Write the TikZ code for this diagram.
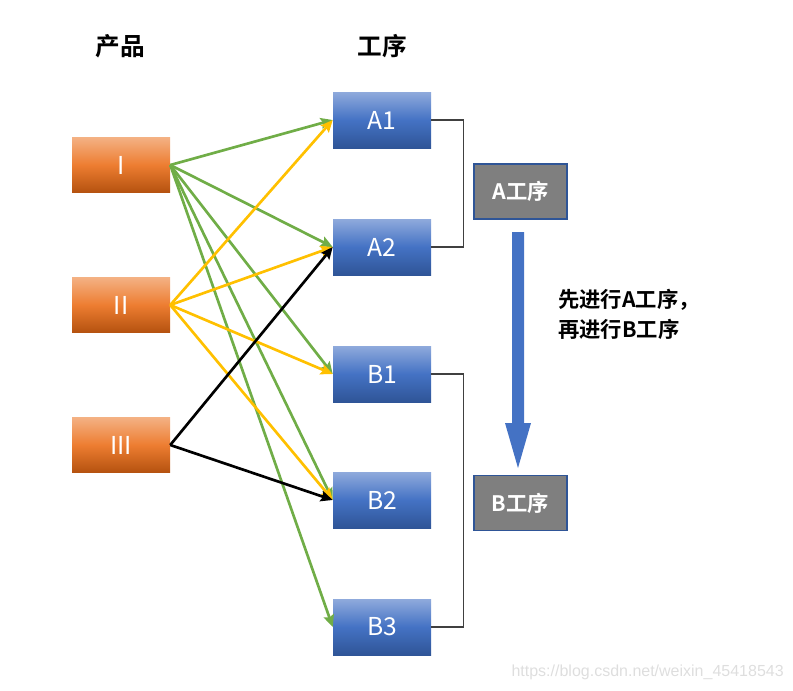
\documentclass[tikz,border=0pt]{standalone}
\usepackage{fontspec}
\setmainfont{Noto Sans CJK SC}[BoldFont={Noto Sans CJK SC Bold}]
\newfontfamily\wmfont{Liberation Sans}
\usetikzlibrary{arrows.meta}
\definecolor{orT}{HTML}{F4B183}
\definecolor{orM}{HTML}{ED7D31}
\definecolor{orB}{HTML}{B5520F}
\definecolor{blT}{HTML}{8FAADC}
\definecolor{blM}{HTML}{4472C4}
\definecolor{blB}{HTML}{2F5597}
\definecolor{grn}{HTML}{70AD47}
\definecolor{ylw}{HTML}{FFC000}
\definecolor{boxgray}{HTML}{7F7F7F}
\tikzset{
  prod/.style={minimum width=73.5pt, minimum height=41.25pt, inner sep=0pt,
    top color=orT, bottom color=orB, middle color=orM, text=white, font=\fontsize{18.5}{20}\selectfont},
  proc/.style={minimum width=73.5pt, minimum height=42pt, inner sep=0pt,
    top color=blT, bottom color=blB, middle color=blM, text=white, font=\fontsize{18.5}{20}\selectfont},
  stage/.style={minimum width=69.75pt, minimum height=41.25pt, inner sep=0pt,
    fill=boxgray, draw=blB, line width=1.2pt, text=white, font=\bfseries\fontsize{16}{18}\selectfont},
  header/.style={font=\bfseries\fontsize{18.5}{20}\selectfont},
  link/.style={line width=2pt, -{Stealth[length=9pt,width=8pt,inset=1.5pt]}},
  brack/.style={line width=0.8pt, draw=black!75},
}
\begin{document}
\begin{tikzpicture}[x=0.75pt,y=-0.75pt]
\useasboundingbox (0,0) rectangle (793,690);
% headers
\node[header] (hp) at (120,46) {产品};
\node[header] (hs) at (382,46) {工序};
% products
\node[prod] (P1) at (121,165) {I};
\node[prod] (P2) at (121,305) {II};
\node[prod] (P3) at (121,445) {III};
% processes
\node[proc] (A1) at (382,120) {A1};
\node[proc] (A2) at (382,247) {A2};
\node[proc] (B1) at (382,374) {B1};
\node[proc] (B2) at (382,500) {B2};
\node[proc] (B3) at (382,627) {B3};
% stage boxes
\node[stage] (SA) at (520.5,191.5) {A工序};
\node[stage] (SB) at (520.5,503) {B工序};
% brackets
\draw[brack] (A1.east) -- ++(32,0) |- (A2.east);
\draw[brack] (B1.east) -- ++(32,0) |- (B3.east);
% big arrow
\fill[blM] (512,232) -- (524,232) -- (524,423) -- (531,423) -- (518,468) -- (505,423) -- (512,423) -- cycle;
% side text
\node[anchor=west, align=left, font=\bfseries\fontsize{16}{22.5}\selectfont, inner sep=0pt] (note) at (558,314) {先进行A工序，\\再进行B工序};
% links
\foreach \t in {A1,A2,B1,B2,B3} \draw[link, grn] (P1.east) -- (\t.west);
\foreach \t in {A1,A2,B1,B2} \draw[link, ylw] (P2.east) -- (\t.west);
\foreach \t in {A2,B2} \draw[link, black] (P3.east) -- (\t.west);
% watermark
\node[font=\wmfont\fontsize{12}{14}\selectfont, text=black!13, anchor=east, inner sep=0pt] (wm) at (784,672) {https://blog.csdn.net/weixin\_45418543};
\end{tikzpicture}
\end{document}
